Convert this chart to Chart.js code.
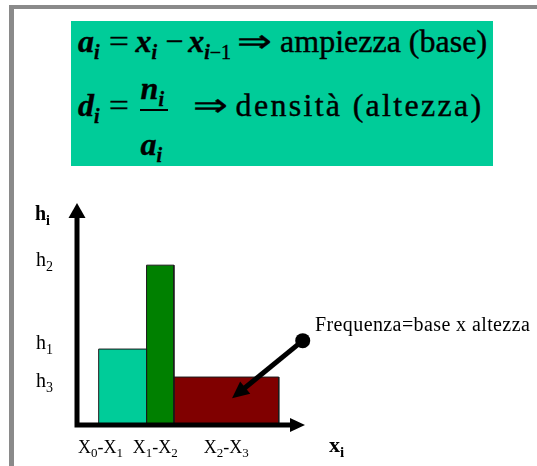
<!DOCTYPE html>
<html>
<head>
<meta charset="utf-8">
<script src="https://cdn.jsdelivr.net/npm/chart.js@4"></script>
<style>
html, body { margin: 0; padding: 0; background: #fff; width: 537px; height: 466px; overflow: hidden; position: relative; }
#frame { position: absolute; left: 9px; top: 5px; width: 560px; height: 480px; border-left: 5px solid #8a8a8a; border-top: 4px solid #8a8a8a; }
#box { position: absolute; left: 71px; top: 21px; width: 422px; height: 145px; background: #00cc99; color: #000; }
#box, #box * { font-family: "Liberation Serif", "Times New Roman", serif; }
.ln { position: absolute; left: 7px; font-size: 32px; line-height: 1; white-space: nowrap; -webkit-text-stroke: 0.4px #000; }
.ln i { font-weight: bold; }
.ln sub { font-size: 20px; font-style: italic; font-weight: bold; vertical-align: -7px; line-height: 0; }
.ln sub span { font-style: normal; font-weight: normal; }
.eq { display: inline-block; margin: 0 8px 0 10px; transform: scaleX(1.1); }
.mn { display: inline-block; margin: 0 5px 0 8px; }
.arr { display: inline-block; transform: scaleX(1.3); }
.a1 { margin: 0 12px 0 10px; }
.a2 { margin: 0 12px 0 29px; }
.wide { letter-spacing: 2.3px; }
.frac { display: inline-block; position: relative; width: 28px; height: 0; margin: 0 0 0 4px; }
.frac .num, .frac .den { position: absolute; left: 1px; line-height: 1; }
.frac .num { top: -44px; }
.frac .den { top: 12px; }
.frac .bar { position: absolute; left: 0; width: 28px; top: -7px; height: 2px; background: #000; }
#wrap { position: absolute; left: 0; top: 180px; width: 537px; height: 286px; }
</style>
</head>
<body>
<div id="frame"></div>
<div id="box">
  <div class="ln" style="top:4px"><i>a</i><sub>i</sub><span class="eq">=</span><i>x</i><sub>i</sub><span class="mn">&minus;</span><i>x</i><sub>i<span>&minus;1</span></sub><span class="arr a1">&rArr;</span>ampiezza (base)</div>
  <div class="ln" style="top:68px"><i>d</i><sub>i</sub><span class="eq">=</span><span class="frac"><span class="num"><i>n</i><sub>i</sub></span><span class="bar"></span><span class="den"><i>a</i><sub>i</sub></span></span><span class="arr a2">&rArr;</span><span class="wide">densità (altezza)</span></div>
</div>
<div id="wrap"><canvas id="histChart" width="537" height="286"></canvas></div>
<script>
// classi, estremi e densità (altezze)
const classLabels = ['X0-X1', 'X1-X2', 'X2-X3'];
const classEdges = [0.95, 3.05, 4.25, 8.85];
const densities = [3.42, 7.2, 2.16];
const densityLabels = ['h1', 'h2', 'h3'];
const barColors = ['#00cc99', '#008000', '#800000'];

// nota con freccia
const noteText = 'Frequenza=base x altezza';
const noteFrom = [9.9, 3.8];
const noteTo = [6.8, 1.2];

const SERIF = "'Liberation Serif', serif";

// scrive un testo con le cifre (o la "i") in pedice
function drawSub(ctx, parts, x, y, size, subSize, drop, bold, align) {
    const fMain = (bold ? 'bold ' : '') + size + 'px ' + SERIF;
    const fSub = (bold ? 'bold ' : '') + subSize + 'px ' + SERIF;
    let w = 0;
    parts.forEach(p => { ctx.font = p[1] ? fSub : fMain; w += ctx.measureText(p[0]).width; });
    let cx = align === 'center' ? x - w / 2 : x;
    ctx.textAlign = 'left';
    ctx.textBaseline = 'alphabetic';
    parts.forEach(p => {
        ctx.font = p[1] ? fSub : fMain;
        ctx.fillText(p[0], cx, p[1] ? y + drop : y);
        cx += ctx.measureText(p[0]).width;
    });
}

function splitSub(txt) {
    const parts = [];
    txt.replace(/(\D+)(\d*)/g, (m, a, b) => {
        parts.push([a, false]);
        if (b) parts.push([b, true]);
        return m;
    });
    return parts;
}

function arrowHead(ctx, tx, ty, angle, len, half) {
    ctx.save();
    ctx.translate(tx, ty);
    ctx.rotate(angle);
    ctx.beginPath();
    ctx.moveTo(0, 0);
    ctx.lineTo(-len, -half);
    ctx.lineTo(-len, half);
    ctx.closePath();
    ctx.fill();
    ctx.restore();
}

const decorPlugin = {
    id: 'decor',
    afterDatasetsDraw(chart) {
        const ctx = chart.ctx;
        const a = chart.chartArea;
        const xs = chart.scales.x;
        const ys = chart.scales.y;
        const ox = xs.getPixelForValue(0);
        const oy = ys.getPixelForValue(0);
        ctx.save();
        ctx.fillStyle = '#000';
        ctx.strokeStyle = '#000';
        ctx.lineWidth = 5;
        ctx.lineCap = 'butt';

        // assi con frecce
        ctx.beginPath();
        ctx.moveTo(ox, oy + 2.5);
        ctx.lineTo(ox, a.top + 12);
        ctx.moveTo(ox - 2.5, oy);
        ctx.lineTo(a.right - 12, oy);
        ctx.stroke();
        arrowHead(ctx, ox, a.top, -Math.PI / 2, 15, 8.5);
        arrowHead(ctx, a.right, oy, 0, 15, 7);

        // etichette asse y
        const yNudge = [0, 1, 10];
        densities.forEach((d, i) => {
            drawSub(ctx, splitSub(densityLabels[i]), 36, ys.getPixelForValue(d) + yNudge[i], 20, 14, 5, false);
        });
        drawSub(ctx, [['h', false], ['i', true]], 35, 40, 20, 14, 5, true);

        // etichette classi
        const xNudge = [-22, -5, 0];
        classLabels.forEach((lab, i) => {
            const c = xs.getPixelForValue((classEdges[i] + classEdges[i + 1]) / 2) + xNudge[i];
            drawSub(ctx, splitSub(lab), c, 273, 18, 13, 4, false, 'center');
        });
        drawSub(ctx, [['x', false], ['i', true]], 329, 272, 22, 15, 5, true);

        // nota: freccia + testo
        const fx = xs.getPixelForValue(noteFrom[0]), fy = ys.getPixelForValue(noteFrom[1]);
        const tx = xs.getPixelForValue(noteTo[0]), ty = ys.getPixelForValue(noteTo[1]);
        const ang = Math.atan2(ty - fy, tx - fx);
        ctx.beginPath();
        ctx.moveTo(fx, fy);
        ctx.lineTo(tx - 12 * Math.cos(ang), ty - 12 * Math.sin(ang));
        ctx.stroke();
        arrowHead(ctx, tx, ty, ang, 17, 8);
        ctx.beginPath();
        ctx.arc(fx, fy, 7.5, 0, Math.PI * 2);
        ctx.fill();
        ctx.font = '20px ' + SERIF;
        ctx.letterSpacing = '0.4px';
        ctx.textAlign = 'left';
        ctx.fillText(noteText, 315, 151);
        ctx.restore();
    }
};

new Chart(document.getElementById('histChart'), {
    type: 'line',
    data: {
        datasets: classLabels.map((lab, i) => ({
            label: lab,
            data: [
                { x: classEdges[i], y: 0 },
                { x: classEdges[i], y: densities[i] },
                { x: classEdges[i + 1], y: densities[i] },
                { x: classEdges[i + 1], y: 0 }
            ],
            backgroundColor: barColors[i],
            borderColor: '#1a1a1a',
            borderWidth: 1,
            fill: 'origin',
            pointRadius: 0,
            tension: 0,
            clip: false
        }))
    },
    options: {
        responsive: false,
        animation: false,
        layout: { padding: { left: 77, right: 232, top: 23, bottom: 41 } },
        plugins: { legend: { display: false }, tooltip: { enabled: false } },
        scales: {
            x: { type: 'linear', min: 0, max: 10, display: false },
            y: { min: 0, max: 10, display: false }
        }
    },
    plugins: [decorPlugin]
});
</script>
</body>
</html>
